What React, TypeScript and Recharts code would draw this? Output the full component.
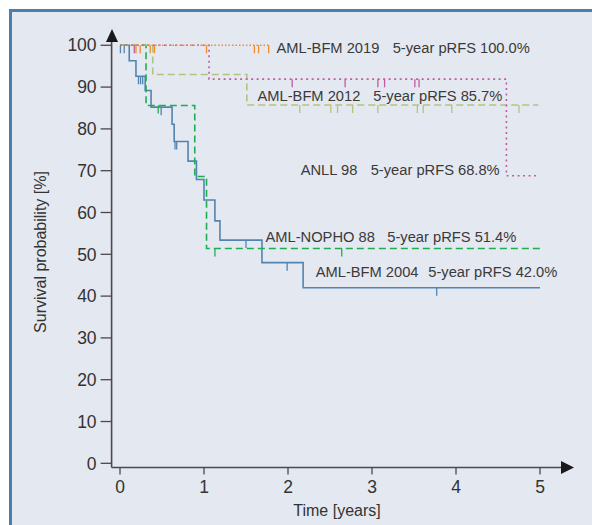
import React from 'react';
import { ComposedChart, Line, Scatter, XAxis, YAxis } from 'recharts';

// ---- data (time in years, survival in %) ----
const bfm2004Steps = [
  { t: 0, s: 100 }, { t: 0.11, s: 96.3 }, { t: 0.19, s: 92.6 }, { t: 0.3, s: 89.2 },
  { t: 0.37, s: 85.2 }, { t: 0.62, s: 81.1 }, { t: 0.645, s: 77.0 }, { t: 0.81, s: 72.3 },
  { t: 0.91, s: 67.9 }, { t: 1.0, s: 63.0 }, { t: 1.13, s: 58.0 }, { t: 1.19, s: 53.4 },
  { t: 1.69, s: 48.0 }, { t: 2.18, s: 42.0 }, { t: 5.0, s: 42.0 },
];
const bfm2004Censored = [
  { t: 0.005, s: 100 }, { t: 0.05, s: 100 }, { t: 0.22, s: 92.6 }, { t: 0.245, s: 92.6 },
  { t: 0.27, s: 92.6 }, { t: 0.49, s: 85.2 }, { t: 0.655, s: 77.0 }, { t: 0.675, s: 77.0 },
  { t: 1.5, s: 53.4 }, { t: 1.99, s: 48.0 }, { t: 3.77, s: 42.0 },
];

const nopho88Steps = [
  { t: 0, s: 100 }, { t: 0.31, s: 85.6 }, { t: 0.89, s: 68.6 }, { t: 1.03, s: 51.4 }, { t: 5.0, s: 51.4 },
];
const nopho88Censored = [
  { t: 0.455, s: 85.6 }, { t: 1.13, s: 51.4 }, { t: 2.64, s: 51.4 },
];

const bfm2012Steps = [
  { t: 0, s: 100 }, { t: 0.39, s: 93.0 }, { t: 1.51, s: 85.7 }, { t: 4.98, s: 85.7 },
];
const bfm2012Censored = [
  { t: 2.14, s: 85.7 }, { t: 2.51, s: 85.7 }, { t: 2.59, s: 85.7 }, { t: 2.77, s: 85.7 },
  { t: 3.07, s: 85.7 }, { t: 3.54, s: 85.7 }, { t: 3.61, s: 85.7 }, { t: 3.95, s: 85.7 },
  { t: 4.75, s: 85.7 },
];

const anll98Steps = [
  { t: 0, s: 100 }, { t: 1.06, s: 91.9 }, { t: 4.6, s: 68.8 }, { t: 4.98, s: 68.8 },
];
const anll98Censored = [
  { t: 0.17, s: 100 }, { t: 2.05, s: 91.9 }, { t: 2.68, s: 91.9 }, { t: 3.07, s: 91.9 },
  { t: 3.15, s: 91.9 }, { t: 3.51, s: 91.9 }, { t: 3.56, s: 91.9 },
];

const bfm2019Steps = [{ t: 0, s: 100 }, { t: 1.78, s: 100 }];
const bfm2019Censored = [
  { t: 0.19, s: 100 }, { t: 0.24, s: 100 }, { t: 0.36, s: 100 }, { t: 0.41, s: 100 },
  { t: 1.03, s: 100 }, { t: 1.6, s: 100 }, { t: 1.65, s: 100 }, { t: 1.77, s: 100 },
];

const xTicks = [0, 1, 2, 3, 4, 5];
const yTicks = [0, 10, 20, 30, 40, 50, 60, 70, 80, 90, 100];

const studyNames = ['AML-BFM 2019', 'AML-BFM 2012', 'ANLL 98', 'AML-NOPHO 88', 'AML-BFM 2004'];
const studyRates = ['5-year pRFS 100.0%', '5-year pRFS 85.7%', '5-year pRFS 68.8%', '5-year pRFS 51.4%', '5-year pRFS 42.0%'];

// ---- styles ----
const C_BLUE = '#5384b0';
const C_GREEN = '#1fae4f';
const C_SAGE = '#b3c47c';
const C_PINK = '#c45a9f';
const C_ORANGE = '#f28a2a';
const FONT = '"Liberation Sans", Arial, sans-serif';

// label placement (x of name, x of rate, y center)
const labelPos = [
  [276.5, 392.7, 47.7],
  [257.5, 373.3, 96],
  [300.7, 370.7, 170],
  [265.5, 387.3, 236.7],
  [315.7, 428.3, 272.3],
];

const censorShape = (color: string) => (props: any) => {
  const { cx, cy } = props;
  if (cx == null || cy == null) return <g />;
  return <line x1={cx} y1={cy} x2={cx} y2={cy + 8} stroke={color} strokeWidth={1.3} />;
};

export default function App() {
  return (
    <div style={{ position: 'absolute', left: 0, top: 0, width: 592, height: 525, overflow: 'hidden' }}>
      <div
        style={{
          position: 'absolute', left: 9, top: 9, width: 583, height: 516, boxSizing: 'border-box',
          background: '#e4e8f1', borderTop: '3px solid #4a7fad', borderLeft: '3px solid #4a7fad',
        }}
      />
      <div style={{ position: 'absolute', left: 0, top: 0 }}>
        <ComposedChart
          width={592}
          height={525}
          margin={{ top: 41.1, right: 22.6, bottom: 27.5, left: 51.6 }}
        >
          <XAxis
            type="number"
            dataKey="t"
            domain={[-0.1, 5.35]}
            ticks={xTicks}
            allowDataOverflow
            height={30}
            tickSize={7}
            tickMargin={6}
            axisLine={{ stroke: '#4a4a4a', strokeWidth: 1.6 }}
            tickLine={{ stroke: '#4a4a4a', strokeWidth: 1.3 }}
            tick={{ fill: '#333', fontSize: 17.5, fontFamily: FONT }}
          />
          <YAxis
            type="number"
            dataKey="s"
            domain={[-1, 101]}
            ticks={yTicks}
            allowDataOverflow
            width={60}
            tickSize={11}
            tickMargin={4}
            axisLine={{ stroke: '#4a4a4a', strokeWidth: 1.6 }}
            tickLine={{ stroke: '#4a4a4a', strokeWidth: 1.3 }}
            tick={{ fill: '#333', fontSize: 17.5, fontFamily: FONT }}
          />
          <Line data={bfm2004Steps} dataKey="s" type="stepAfter" stroke={C_BLUE} strokeWidth={1.6} dot={false} isAnimationActive={false} />
          <Line data={nopho88Steps} dataKey="s" type="stepAfter" stroke={C_GREEN} strokeWidth={1.6} strokeDasharray="7 4" dot={false} isAnimationActive={false} />
          <Line data={bfm2012Steps} dataKey="s" type="stepAfter" stroke={C_SAGE} strokeWidth={1.6} strokeDasharray="7 4" dot={false} isAnimationActive={false} />
          <Line data={anll98Steps} dataKey="s" type="stepAfter" stroke={C_PINK} strokeWidth={1.6} strokeDasharray="2 3.5" dot={false} isAnimationActive={false} />
          <Line data={bfm2019Steps} dataKey="s" type="stepAfter" stroke={C_ORANGE} strokeWidth={1.5} strokeDasharray="1.5 2" dot={false} isAnimationActive={false} />
          <Scatter data={bfm2004Censored} dataKey="s" shape={censorShape(C_BLUE)} isAnimationActive={false} />
          <Scatter data={nopho88Censored} dataKey="s" shape={censorShape(C_GREEN)} isAnimationActive={false} />
          <Scatter data={bfm2012Censored} dataKey="s" shape={censorShape(C_SAGE)} isAnimationActive={false} />
          <Scatter data={anll98Censored} dataKey="s" shape={censorShape(C_PINK)} isAnimationActive={false} />
          <Scatter data={bfm2019Censored} dataKey="s" shape={censorShape(C_ORANGE)} isAnimationActive={false} />
        </ComposedChart>
      </div>
      <svg
        width={592}
        height={525}
        style={{ position: 'absolute', left: 0, top: 0, pointerEvents: 'none' }}
      >
        {/* axis arrowheads */}
        <polygon points="112,29 106,42 118,42" fill="#1a1a1a" />
        <polygon points="574,467.5 561,461 561,474" fill="#1a1a1a" />
        {/* axis titles */}
        <text
          x={40}
          y={252}
          transform="rotate(-90 40 252)"
          textAnchor="middle"
          dominantBaseline="central"
          fontFamily={FONT}
          fontSize={16}
          fill="#333"
        >
          Survival probability [%]
        </text>
        <text x={337} y={510} textAnchor="middle" dominantBaseline="central" fontFamily={FONT} fontSize={16} fill="#333">
          Time [years]
        </text>
        {studyNames.map((name, i) => (
          <g key={name}>
            <text x={labelPos[i][0]} y={labelPos[i][2]} dominantBaseline="central" fontFamily={FONT} fontSize={14.7} fill="#3a3a3a">
              {name}
            </text>
            <text x={labelPos[i][1]} y={labelPos[i][2]} dominantBaseline="central" fontFamily={FONT} fontSize={14.7} fill="#3a3a3a">
              {studyRates[i]}
            </text>
          </g>
        ))}
      </svg>
    </div>
  );
}
